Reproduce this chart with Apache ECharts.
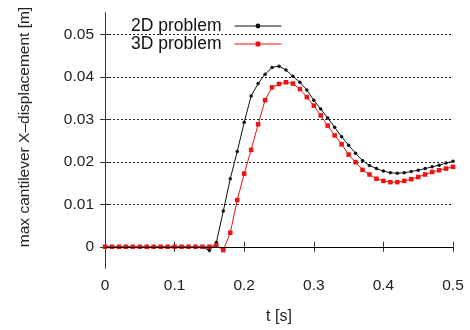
<!DOCTYPE html>
<html>
<head>
<meta charset="utf-8">
<script src="https://cdn.jsdelivr.net/npm/echarts@6/dist/echarts.min.js"></script>
<style>html,body{margin:0;padding:0;background:#fff;}#c{width:470px;height:330px;}</style>
</head>
<body>
<div id="c"></div>
<script>
var times = [0,0.01,0.02,0.03,0.04,0.05,0.06,0.07,0.08,0.09,
  0.10,0.11,0.12,0.13,0.14,0.15,0.16,0.17,0.18,0.19,
  0.20,0.21,0.22,0.23,0.24,0.25,0.26,0.27,0.28,0.29,
  0.30,0.31,0.32,0.33,0.34,0.35,0.36,0.37,0.38,0.39,
  0.40,0.41,0.42,0.43,0.44,0.45,0.46,0.47,0.48,0.49,0.50];
var disp2D = [0,0,0,0,0,0,0,0,0,0,
  0,0,0,0,0,-0.0009,0.0010,0.0084,0.0160,0.0224,
  0.0293,0.0355,0.0384,0.0406,0.0422,0.0425,0.0416,0.0401,0.0387,0.0369,
  0.0345,0.0324,0.0303,0.0281,0.0259,0.0239,0.0220,0.0203,0.0191,0.0184,
  0.0178,0.0174,0.0173,0.0174,0.0177,0.0180,0.0184,0.0188,0.0192,0.0197,0.0201];
var disp3D = [0,0,0,0,0,0,0,0,0,0,
  0,0,0,0,0,0,0.0003,-0.0008,0.0033,0.0110,
  0.0172,0.0228,0.0288,0.0345,0.0375,0.0383,0.0387,0.0384,0.0371,0.0352,
  0.0332,0.0309,0.0285,0.0262,0.0241,0.0217,0.0199,0.0181,0.0170,0.0160,
  0.0155,0.0152,0.0152,0.0155,0.0159,0.0164,0.0170,0.0176,0.0180,0.0184,0.0188];
var yTicks = [0,0.01,0.02,0.03,0.04,0.05];
var seriesNames = ['2D problem','3D problem'];

function pairs(xs, ys){ return xs.map(function(x,i){ return [x, ys[i]]; }); }

var FONT = 'Liberation Sans, Arial, Helvetica, sans-serif';
var axisCol = '#333';
var chart = echarts.init(document.getElementById('c'), null, {renderer:'canvas'});
chart.setOption({
  animation:false,
  backgroundColor:'#fff',
  textStyle:{fontFamily:FONT},
  grid:{left:105,right:17,top:13,bottom:62,containLabel:false},
  legend:{
    data:seriesNames, orient:'vertical', left:131, top:17, align:'right',
    itemWidth:47, itemHeight:6, itemGap:0, padding:0,
    lineStyle:{width:1},
    textStyle:{fontSize:17.5,lineHeight:17.7,color:'#111',fontFamily:FONT,padding:[0,8,0,0]}
  },
  xAxis:[{
    type:'value', min:0, max:0.5, interval:0.1, position:'bottom',
    name:'t [s]', nameLocation:'middle', nameGap:41,
    nameTextStyle:{fontSize:16,color:'#222',fontFamily:FONT},
    axisLine:{show:true,lineStyle:{color:axisCol,width:1}},
    axisTick:{show:true,inside:true,length:5,lineStyle:{color:axisCol}},
    axisLabel:{show:true,fontSize:15.5,color:'#222',margin:10,fontFamily:FONT},
    splitLine:{show:false}
  },{
    type:'value', min:0, max:0.5, interval:0.1, position:'top',
    axisLine:{show:true,lineStyle:{color:axisCol,width:1}},
    axisTick:{show:true,inside:true,length:5,lineStyle:{color:axisCol}},
    axisLabel:{show:false}, splitLine:{show:false}
  }],
  yAxis:[{
    type:'value', min:-0.005, max:0.055, position:'left',
    name:'max cantilever X\u2013displacement [m]', nameLocation:'middle', nameGap:72, nameRotate:90,
    nameTextStyle:{fontSize:15.5,color:'#222',fontFamily:FONT,padding:[0,0,0,27]},
    axisLine:{show:true,lineStyle:{color:axisCol,width:1}},
    axisTick:{show:true,inside:true,length:5,customValues:yTicks,lineStyle:{color:axisCol}},
    axisLabel:{show:true,fontSize:15.5,color:'#222',margin:11,customValues:yTicks,fontFamily:FONT,
      formatter:function(v){ return String(Math.round(v*100)/100); }},
    splitLine:{show:true,lineStyle:{color:'#222',width:1,type:[2,2]}}
  },{
    type:'value', min:-0.005, max:0.055, position:'right',
    axisLine:{show:true,lineStyle:{color:axisCol,width:1}},
    axisTick:{show:true,inside:true,length:5,customValues:yTicks,lineStyle:{color:axisCol}},
    axisLabel:{show:false}, splitLine:{show:false}
  }],
  series:[{
    name:seriesNames[0], type:'line', xAxisIndex:0, yAxisIndex:0,
    data:pairs(times, disp2D),
    lineStyle:{color:'#111',width:1},
    itemStyle:{color:'#111'},
    symbol:'circle', symbolSize:3.5, showSymbol:true,
    markLine:{silent:true, symbol:['none','none'], label:{show:false},
      lineStyle:{color:'#000',width:1,type:'solid'}, data:[{yAxis:0}]},
    z:3
  },{
    name:seriesNames[1], type:'line', xAxisIndex:0, yAxisIndex:0,
    data:pairs(times, disp3D),
    lineStyle:{color:'#ee1111',width:1},
    itemStyle:{color:'#ee1111'},
    symbol:'rect', symbolSize:4.5, showSymbol:true,
    z:4
  }]
});
</script>
</body>
</html>
